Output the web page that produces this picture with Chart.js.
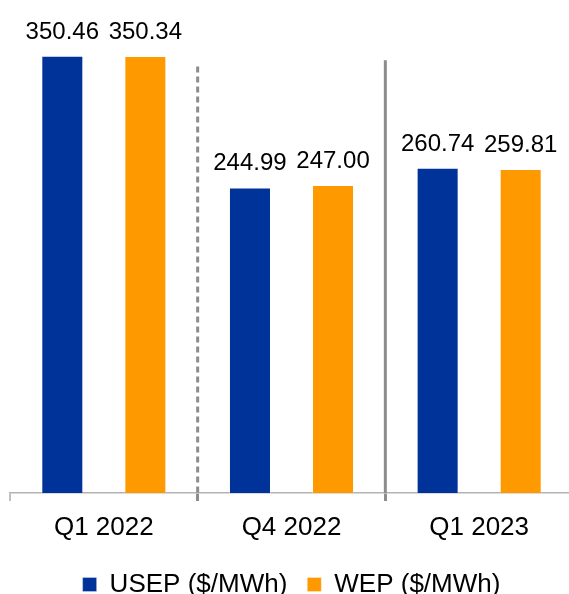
<!DOCTYPE html>
<html>
<head>
<meta charset="utf-8">
<script src="https://cdn.jsdelivr.net/npm/chart.js@4"></script>
<style>
  html, body { margin: 0; padding: 0; background: #fff; overflow: hidden; }
  #wrap { position: relative; width: 573px; height: 594px; }
</style>
</head>
<body>
<div id="wrap"><canvas id="priceChart"></canvas></div>
<script>
const quarters = ['Q1 2022', 'Q4 2022', 'Q1 2023'];
const usep = [350.46, 244.99, 260.74];
const wep = [350.34, 247.00, 259.81];
const seriesNames = ['USEP ($/MWh)', 'WEP ($/MWh)'];

const FONT = '"Liberation Sans", Arial, sans-serif';

// value printed above each bar
const barValues = {
  id: 'barValues',
  afterDatasetsDraw(chart) {
    const ctx = chart.ctx;
    ctx.save();
    ctx.font = '24px ' + FONT;
    ctx.fillStyle = '#000';
    ctx.textAlign = 'center';
    ctx.textBaseline = 'alphabetic';
    chart.data.datasets.forEach((ds, i) => {
      chart.getDatasetMeta(i).data.forEach((bar, j) => {
        ctx.fillText(ds.data[j].toFixed(2), bar.x, bar.y - 17);
      });
    });
    ctx.restore();
  }
};

// grey lines between the quarters: dashed first, solid second
const dividers = {
  id: 'dividers',
  afterDatasetsDraw(chart, args, opts) {
    const { ctx, scales: { x, y }, chartArea } = chart;
    ctx.save();
    ctx.strokeStyle = '#8c8c8c';
    ctx.lineWidth = 3;
    opts.lines.forEach(l => {
      const px = (x.getPixelForValue(l.after) + x.getPixelForValue(l.after + 1)) / 2;
      ctx.setLineDash(l.dash);
      ctx.beginPath();
      ctx.moveTo(px, y.getPixelForValue(l.top));
      ctx.lineTo(px, chartArea.bottom);
      ctx.stroke();
    });
    ctx.restore();
  }
};

new Chart(document.getElementById('priceChart'), {
  type: 'bar',
  data: {
    labels: quarters,
    datasets: [
      {
        label: seriesNames[0],
        data: usep,
        backgroundColor: '#003399',
        borderColor: 'rgba(255,255,255,0.3)',
        borderWidth: 1,
        categoryPercentage: 0.885,
        barPercentage: 0.506
      },
      {
        label: seriesNames[1],
        data: wep,
        backgroundColor: '#ff9900',
        borderColor: 'rgba(255,255,255,0.3)',
        borderWidth: 1,
        categoryPercentage: 0.885,
        barPercentage: 0.506
      }
    ]
  },
  options: {
    responsive: true,
    maintainAspectRatio: false,
    animation: false,
    layout: { padding: { top: 19, left: 10, right: 0, bottom: 0 } },
    plugins: {
      legend: {
        position: 'bottom',
        maxHeight: 42.5,
        labels: {
          boxWidth: 14,
          boxHeight: 14,
          padding: 20,
          color: '#000',
          font: { family: FONT, size: 26 }
        }
      },
      tooltip: { enabled: false },
      dividers: {
        lines: [
          { after: 0, top: 342, dash: [6, 4] },
          { after: 1, top: 347, dash: [] }
        ]
      }
    },
    scales: {
      x: {
        afterFit: s => { s.height = 58.5; },
        grid: {
          offset: true,
          drawOnChartArea: false,
          tickLength: 8,
          color: c => c.index === 0 ? '#c0c0c0' : '#8c8c8c',
          lineWidth: c => c.index === 0 ? 2 : 3
        },
        border: { color: '#b3b3b3', width: 1.5 },
        ticks: {
          color: '#000',
          padding: 11,
          font: { family: FONT, size: 26 }
        }
      },
      y: {
        display: false,
        min: 0,
        max: 380
      }
    }
  },
  plugins: [barValues, dividers]
});
</script>
</body>
</html>
